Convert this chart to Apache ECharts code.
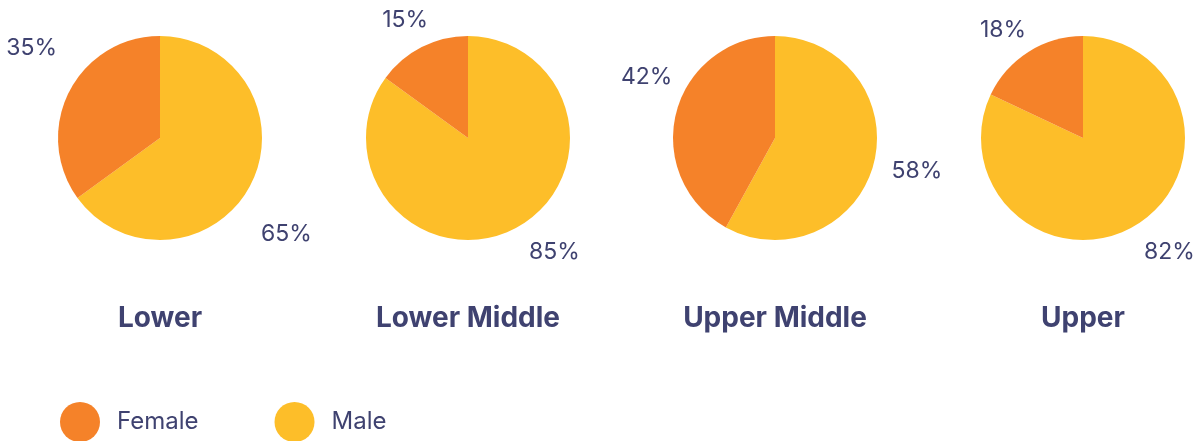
<!DOCTYPE html>
<html lang="en">

<head>
    <meta charset="UTF-8">
    <title>Gender by income group</title>
    <script src="https://cdn.jsdelivr.net/npm/echarts@6/dist/echarts.min.js"></script>
    <style>
        html, body { margin: 0; padding: 0; background: #fff; }
    </style>
</head>

<body>
    <div id="chart" style="width: 1197px; height: 441px;"></div>
    <script>
        // data
        var groups = ['Lower', 'Lower Middle', 'Upper Middle', 'Upper'];
        var female = [35, 15, 42, 18];
        var male = [65, 85, 58, 82];
        var centersX = [160, 468, 775, 1083];

        var orange = '#F58229';
        var yellow = '#FDBE29';
        var navy = '#3F4270';
        var font = 'Inter';

        // small label nudges [dx, dy] per pie: [male, female]
        var labelNudge = [
            [[-2, 46], [0, -40]],
            [[6, 16], [15, -20]],
            [[5, 6], [9, -34]],
            [[-3, 21], [7, -15]]
        ];

        var myChart = echarts.init(document.getElementById('chart'));

        var series = groups.map(function (g, i) {
            return {
                name: g,
                type: 'pie',
                center: [centersX[i], 138],
                radius: [0, 102],
                startAngle: 90,
                clockwise: true,
                avoidLabelOverlap: false,
                silent: true,
                label: {
                    show: true,
                    position: 'outside',
                    formatter: '{c}%',
                    color: navy,
                    fontSize: 23,
                    fontFamily: font,
                    distance: 4
                },
                labelLine: {
                    show: false,
                    length: 8,
                    length2: 0
                },
                labelLayout: function (p) {
                    var n = labelNudge[i][p.dataIndex];
                    return { dx: n[0], dy: n[1] };
                },
                data: [
                    { name: 'Male', value: male[i], itemStyle: { color: yellow } },
                    { name: 'Female', value: female[i], itemStyle: { color: orange } }
                ]
            };
        });

        var titles = groups.map(function (g, i) {
            return {
                text: g,
                left: centersX[i],
                top: 305,
                padding: 0,
                textAlign: 'center',
                textStyle: {
                    color: navy,
                    fontSize: 28,
                    fontWeight: 'bold',
                    fontFamily: font
                }
            };
        });

        var option = {
            backgroundColor: '#fff',
            animation: false,
            title: titles,
            legend: {
                data: ['Female', 'Male'],
                left: 55,
                top: 397,
                icon: 'circle',
                itemWidth: 40,
                itemHeight: 40,
                itemGap: 76,
                selectedMode: false,
                textStyle: {
                    color: navy,
                    fontSize: 24,
                    fontFamily: font,
                    padding: [4, 0, 0, 12]
                }
            },
            series: series
        };

        myChart.setOption(option);
        window.addEventListener('resize', function () {
            myChart.resize();
        });
    </script>
</body>

</html>
